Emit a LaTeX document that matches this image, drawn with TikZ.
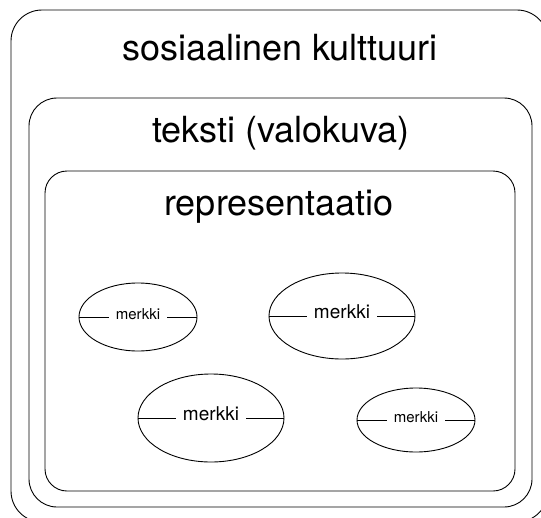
\documentclass[tikz,border=0pt]{standalone}
\usepackage{fontspec}
\setmainfont{TeX Gyre Heros}
\usetikzlibrary{shapes.geometric}
\begin{document}
\begin{tikzpicture}[x=1pt,y=-1pt,
  frame/.style={draw=black, line width=0.9pt, rounded corners=#1},
  title/.style={anchor=base, inner sep=0pt, font=\fontsize{36}{36}\selectfont},
  sign/.style={draw=black, line width=0.9pt, ellipse, inner sep=0pt},
  signlabel/.style={inner xsep=7pt, inner ysep=0pt, text height=1ex, text depth=0pt, font=\fontsize{#1}{#1}\selectfont},
  rule/.style={draw=black, line width=0.9pt}
]
\useasboundingbox (0,0) rectangle (541,517);

% nested frames
\draw[frame=31] (11,10) rectangle (548,522);
\draw[frame=28] (29,98) rectangle (532,507);
\draw[frame=22] (45,171) rectangle (515,491);

% frame titles
\node[title] (kulttuuri) at (280,60) {sosiaalinen kulttuuri};
\node[title] (teksti) at (281,142) {teksti (valokuva)};
\node[title] (repr) at (279,215) {representaatio};

% signs
\node[sign, minimum width=118pt, minimum height=68pt] (e1) at (138,317) {};
\node[sign, minimum width=146pt, minimum height=86pt] (e2) at (342,316) {};
\node[sign, minimum width=146pt, minimum height=88pt] (e3) at (211,418) {};
\node[sign, minimum width=118pt, minimum height=64pt] (e4) at (416,420) {};

\node[signlabel=15] (m1) at (e1.center) {merkki};
\node[signlabel=19] (m2) at (e2.center) {merkki};
\node[signlabel=19] (m3) at (e3.center) {merkki};
\node[signlabel=15] (m4) at (e4.center) {merkki};

\foreach \i in {1,2,3,4}{
  \draw[rule] (e\i.west) -- (m\i.west);
  \draw[rule] (m\i.east) -- (e\i.east);
}
\end{tikzpicture}
\end{document}
